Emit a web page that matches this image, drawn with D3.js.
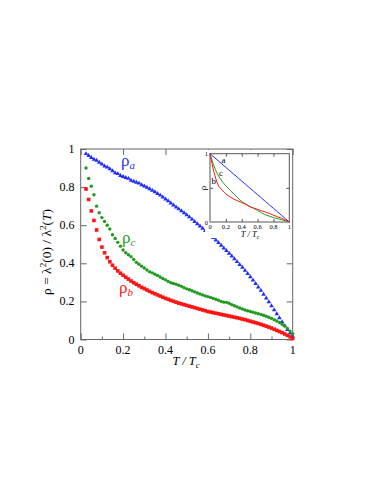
<!DOCTYPE html>
<html>
<head>
<meta charset="utf-8">
<script src="https://cdn.jsdelivr.net/npm/d3@7"></script>
<style>
  body { margin: 0; background: #fff; }
  text { font-family: "Liberation Serif", "DejaVu Serif", serif; }
</style>
</head>
<body>
<script>

// temperature grid, T / Tc
var temps = [0.025, 0.0375, 0.05, 0.0625, 0.075, 0.0875, 0.1, 0.1125, 0.125, 0.1375,
  0.15, 0.1625, 0.175, 0.1875, 0.2, 0.2125, 0.225, 0.2375, 0.25, 0.2625,
  0.275, 0.2875, 0.3, 0.3125, 0.325, 0.3375, 0.35, 0.3625, 0.375, 0.3875,
  0.4, 0.4125, 0.425, 0.4375, 0.45, 0.4625, 0.475, 0.4875, 0.5, 0.5125,
  0.525, 0.5375, 0.55, 0.5625, 0.575, 0.5875, 0.6, 0.6125, 0.625, 0.6375,
  0.65, 0.6625, 0.675, 0.6875, 0.7, 0.7125, 0.725, 0.7375, 0.75, 0.7625,
  0.775, 0.7875, 0.8, 0.8125, 0.825, 0.8375, 0.85, 0.8625, 0.875, 0.8875,
  0.9, 0.9125, 0.925, 0.9375, 0.95, 0.9625, 0.975, 0.9875, 1.0];

var rhoA = [0.975, 0.965, 0.955, 0.945, 0.94, 0.93, 0.92, 0.91, 0.905, 0.895,
  0.885, 0.875, 0.87, 0.86, 0.855, 0.85, 0.845, 0.835, 0.83, 0.825,
  0.82, 0.812, 0.805, 0.798, 0.79, 0.783, 0.775, 0.766, 0.757, 0.747,
  0.737, 0.727, 0.716, 0.705, 0.695, 0.685, 0.675, 0.665, 0.654, 0.643,
  0.631, 0.619, 0.607, 0.595, 0.583, 0.571, 0.559, 0.547, 0.534, 0.521,
  0.508, 0.494, 0.48, 0.466, 0.452, 0.438, 0.423, 0.408, 0.393, 0.378,
  0.362, 0.346, 0.329, 0.311, 0.293, 0.275, 0.257, 0.237, 0.217, 0.197,
  0.176, 0.155, 0.134, 0.113, 0.092, 0.072, 0.052, 0.033, 0.015];

var rhoB = [0.79, 0.735, 0.675, 0.625, 0.575, 0.525, 0.485, 0.455, 0.43, 0.408,
  0.39, 0.374, 0.36, 0.348, 0.337, 0.327, 0.317, 0.307, 0.298, 0.29,
  0.282, 0.274, 0.267, 0.26, 0.253, 0.246, 0.24, 0.234, 0.228, 0.222,
  0.216, 0.211, 0.206, 0.201, 0.196, 0.191, 0.187, 0.183, 0.179, 0.175,
  0.171, 0.167, 0.163, 0.159, 0.155, 0.151, 0.147, 0.144, 0.141, 0.138,
  0.135, 0.132, 0.129, 0.126, 0.123, 0.12, 0.117, 0.114, 0.111, 0.107,
  0.104, 0.1, 0.096, 0.092, 0.088, 0.084, 0.08, 0.075, 0.07, 0.065,
  0.06, 0.054, 0.048, 0.042, 0.036, 0.029, 0.022, 0.014, 0.005];

var rhoC = [0.90, 0.845, 0.805, 0.76, 0.70, 0.665, 0.64, 0.62, 0.60, 0.58,
  0.55, 0.53, 0.51, 0.49, 0.47, 0.455, 0.445, 0.435, 0.42, 0.405,
  0.395, 0.385, 0.375, 0.365, 0.355, 0.35, 0.343, 0.336, 0.328, 0.32,
  0.313, 0.305, 0.298, 0.294, 0.29, 0.285, 0.279, 0.272, 0.266, 0.261,
  0.256, 0.25, 0.244, 0.239, 0.234, 0.229, 0.225, 0.221, 0.216, 0.211,
  0.206, 0.2, 0.196, 0.195, 0.19, 0.183, 0.177, 0.171, 0.165, 0.16,
  0.155, 0.151, 0.147, 0.143, 0.139, 0.135, 0.131, 0.127, 0.122, 0.117,
  0.111, 0.104, 0.097, 0.089, 0.08, 0.07, 0.058, 0.044, 0.03];

// inset: model curves
var insetT = [0, 0.05, 0.1, 0.15, 0.2, 0.25, 0.3, 0.35, 0.4, 0.45, 0.5,
  0.55, 0.6, 0.65, 0.7, 0.75, 0.8, 0.85, 0.9, 0.95, 1];
var insetA = [1, 0.95, 0.9, 0.85, 0.8, 0.75, 0.7, 0.65, 0.6, 0.55, 0.5,
  0.45, 0.4, 0.35, 0.3, 0.25, 0.2, 0.15, 0.1, 0.05, 0];
var insetB = [1, 0.73, 0.55, 0.47, 0.41, 0.37, 0.335, 0.31, 0.285, 0.26, 0.225,
  0.205, 0.185, 0.165, 0.145, 0.125, 0.1, 0.078, 0.055, 0.028, 0];
var insetC = [1, 0.82, 0.69, 0.6, 0.53, 0.47, 0.41, 0.355, 0.3, 0.265, 0.23,
  0.2, 0.17, 0.135, 0.105, 0.085, 0.065, 0.05, 0.035, 0.018, 0];

var xTicks = [0, 0.2, 0.4, 0.6, 0.8, 1];
var yTicks = [0, 0.2, 0.4, 0.6, 0.8, 1];

var blue = '#1f2cff', green = '#1f9a1f', red = '#ff1414';

var svg = d3.select('body').append('svg')
    .attr('width', 382)
    .attr('height', 494);

// --------------------------------------------------
// Main plot
// --------------------------------------------------

var x = d3.scaleLinear().domain([0, 1]).range([80.7, 292.7]);
var y = d3.scaleLinear().domain([0, 1]).range([339.5, 149]);

var g = svg.append('g');

function frame(g, x, y, major, minor, len, col) {
    var x0 = x.range()[0], x1 = x.range()[1], y0 = y.range()[0], y1 = y.range()[1];
    g.append('g').attr('transform', 'translate(0,' + y0 + ')')
        .call(d3.axisBottom(x).tickValues(minor.x).tickSize(-len / 2).tickFormat(''))
        .call(a => a.select('.domain').remove());
    g.append('g').attr('transform', 'translate(0,' + y0 + ')')
        .call(d3.axisBottom(x).tickValues(major.x).tickSize(-len).tickFormat(''))
        .call(a => a.select('.domain').remove());
    g.append('g').attr('transform', 'translate(0,' + y1 + ')')
        .call(d3.axisTop(x).tickValues(major.x).tickSize(-len).tickFormat(''))
        .call(a => a.select('.domain').remove());
    g.append('g').attr('transform', 'translate(' + x0 + ',0)')
        .call(d3.axisLeft(y).tickValues(major.y).tickSize(-len).tickFormat(''))
        .call(a => a.select('.domain').remove());
    g.append('g').attr('transform', 'translate(' + x1 + ',0)')
        .call(d3.axisRight(y).tickValues(major.y).tickSize(-len).tickFormat(''))
        .call(a => a.select('.domain').remove());
    g.selectAll('.tick line').attr('stroke', col);
    g.append('rect')
        .attr('x', x0).attr('y', y1)
        .attr('width', x1 - x0).attr('height', y0 - y1)
        .attr('fill', 'none').attr('stroke', col).attr('stroke-width', 1);
}

frame(g, x, y, { x: xTicks, y: yTicks }, { x: [0.1, 0.3, 0.5, 0.7, 0.9] }, 6, '#666');

// tick labels
g.selectAll('.xl').data(xTicks).enter().append('text')
    .attr('x', d => x(d)).attr('y', 354)
    .attr('text-anchor', 'middle').attr('font-size', 12)
    .text(d => d);
g.selectAll('.yl').data(yTicks).enter().append('text')
    .attr('x', 74.5).attr('y', d => y(d) + 4)
    .attr('text-anchor', 'end').attr('font-size', 12)
    .text(d => d);

// axis titles
var xt = svg.append('text').attr('x', 186).attr('y', 365)
    .attr('text-anchor', 'middle').attr('font-size', 12.5).attr('font-style', 'italic');
xt.append('tspan').text('T / T');
xt.append('tspan').attr('font-size', 8.5).attr('dy', 3).text('c');

var yt = svg.append('text')
    .attr('transform', 'translate(51,252) rotate(-90)')
    .attr('text-anchor', 'middle').attr('font-size', 13.5);
yt.append('tspan').text('\u03c1 = \u03bb');
yt.append('tspan').attr('font-size', 9).attr('dy', -5).text('2');
yt.append('tspan').attr('dy', 5).text('(0) / \u03bb');
yt.append('tspan').attr('font-size', 9).attr('dy', -5).text('2');
yt.append('tspan').attr('dy', 5).text('(');
yt.append('tspan').attr('font-style', 'italic').text('T');
yt.append('tspan').text(')');

// data points
var pts = g.append('g');
pts.selectAll('.b').data(temps).enter().append('path')
    .attr('d', d3.symbol(d3.symbolTriangle, 9))
    .attr('transform', (d, i) => 'translate(' + x(d) + ',' + y(rhoA[i]) + ')')
    .attr('fill', blue);
pts.selectAll('.g').data(temps).enter().append('circle')
    .attr('cx', d => x(d)).attr('cy', (d, i) => y(rhoC[i]))
    .attr('r', 1.7).attr('fill', green);
pts.selectAll('.r').data(temps).enter().append('rect')
    .attr('x', d => x(d) - 1.8).attr('y', (d, i) => y(rhoB[i]) - 1.8)
    .attr('width', 3.6).attr('height', 3.6).attr('fill', red);

// series labels
function rhoLabel(px, py, sub, col) {
    var t = svg.append('text').attr('x', px).attr('y', py)
        .attr('font-size', 17).attr('fill', col);
    t.append('tspan').text('\u03c1');
    t.append('tspan').attr('font-size', 11).attr('dy', 3)
        .attr('font-style', 'italic').text(sub);
}
rhoLabel(121, 166, 'a', blue);
rhoLabel(122, 243, 'c', green);
rhoLabel(119, 293, 'b', red);

// --------------------------------------------------
// Inset
// --------------------------------------------------

var ix = d3.scaleLinear().domain([0, 1]).range([210, 289.3]);
var iy = d3.scaleLinear().domain([0, 1]).range([222, 153.7]);
var ig = svg.append('g');

ig.append('rect').attr('x', 205).attr('y', 150).attr('width', 87).attr('height', 88).attr('fill', '#fff');
frame(ig, ix, iy, { x: [0.2, 0.4, 0.6, 0.8], y: [0.5] }, { x: [] }, 3, '#555');

ig.selectAll('.ixl').data(xTicks).enter().append('text')
    .attr('x', d => ix(d)).attr('y', 228.5)
    .attr('text-anchor', 'middle').attr('font-size', 6.5)
    .text(d => d);
ig.selectAll('.iyl').data([0, 1]).enter().append('text')
    .attr('x', 208).attr('y', d => iy(d) + 2.5)
    .attr('text-anchor', 'end').attr('font-size', 6.5)
    .text(d => d);

var ixt = ig.append('text').attr('x', 250).attr('y', 236.5)
    .attr('text-anchor', 'middle').attr('font-size', 8.5).attr('font-style', 'italic');
ixt.append('tspan').text('T / T');
ixt.append('tspan').attr('font-size', 6).attr('dy', 2).text('c');

ig.append('text').attr('transform', 'translate(206,188) rotate(-90)')
    .attr('text-anchor', 'middle').attr('font-size', 9).text('\u03c1');

var line = d3.line()
    .x((d, i) => ix(insetT[i]))
    .y(d => iy(d))
    .curve(d3.curveMonotoneX);

[[insetA, blue], [insetC, green], [insetB, red]].forEach(function (s) {
    ig.append('path').datum(s[0])
        .attr('d', line)
        .attr('fill', 'none')
        .attr('stroke', s[1])
        .attr('stroke-width', 1);
});

ig.append('text').attr('x', 221.5).attr('y', 163).attr('font-size', 9).text('a');
ig.append('text').attr('x', 219).attr('y', 176).attr('font-size', 9).text('c');
ig.append('text').attr('x', 211.5).attr('y', 184).attr('font-size', 9).text('b');

</script>
</body>
</html>
